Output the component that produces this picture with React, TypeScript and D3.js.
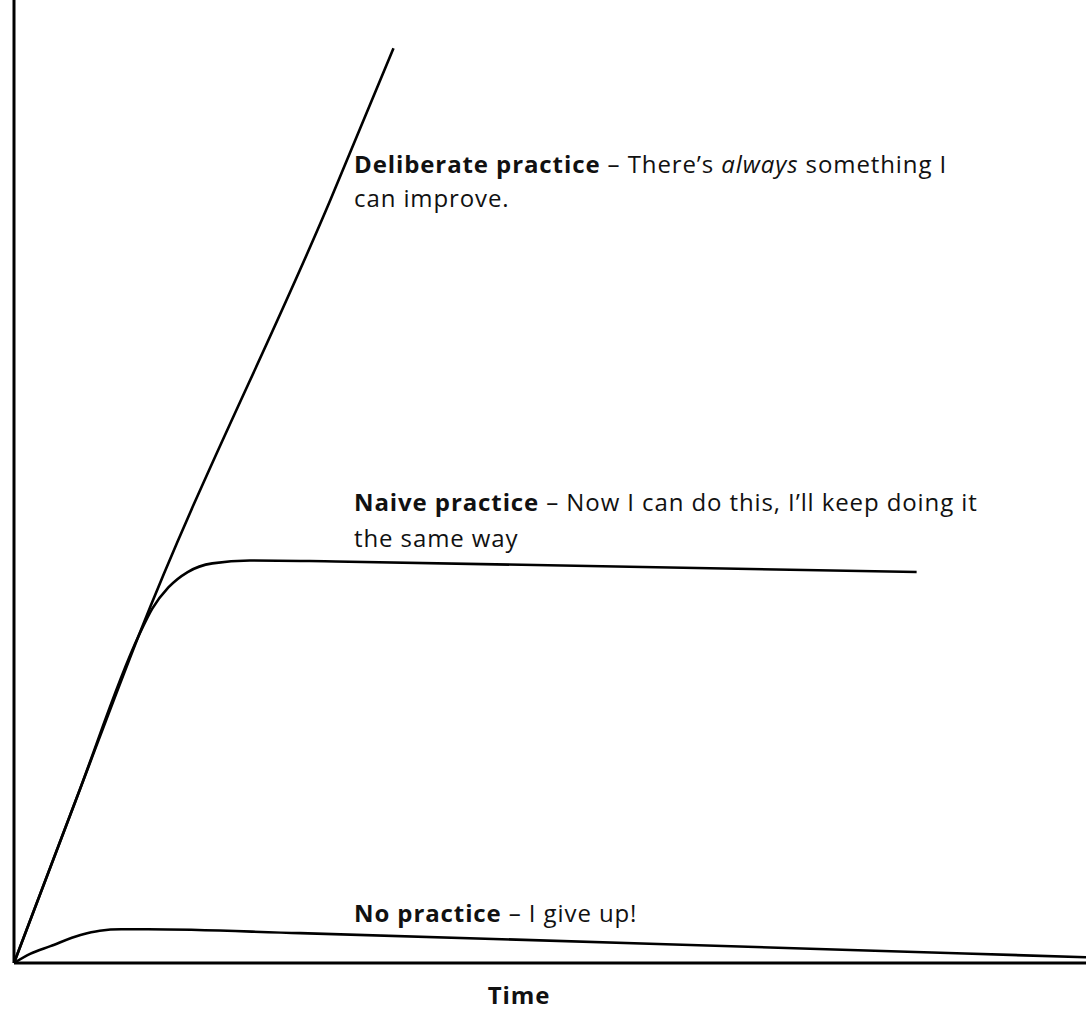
import React from 'react';
import * as d3 from 'd3';

interface Pt {
  t: number;
  v: number;
}

// values (time 0-100, skill 0-100)
const deliberate: Pt[] = [
  { t: 0, v: 0 },
  { t: 5.8, v: 17.0 },
  { t: 11.6, v: 33.9 },
  { t: 29.5, v: 79.2 },
  { t: 35.4, v: 95.0 },
];

const naive: Pt[] = [
  { t: 0, v: 0 },
  { t: 5.8, v: 17.0 },
  { t: 11.6, v: 33.9 },
  { t: 12.9, v: 36.8 },
  { t: 14.4, v: 39.0 },
  { t: 16.2, v: 40.6 },
  { t: 18.5, v: 41.5 },
  { t: 22.0, v: 41.8 },
  { t: 30.0, v: 41.7 },
  { t: 84.2, v: 40.6 },
];

const noPractice: Pt[] = [
  { t: 0, v: 0 },
  { t: 1.5, v: 0.95 },
  { t: 3.4, v: 1.75 },
  { t: 6.2, v: 2.9 },
  { t: 8.0, v: 3.35 },
  { t: 10.0, v: 3.5 },
  { t: 12.5, v: 3.5 },
  { t: 26.7, v: 3.1 },
  { t: 78.0, v: 1.35 },
  { t: 100, v: 0.6 },
];

const xLabel = 'Time';

const W = 1086;
const H = 1014;
const FONT = '"Open Sans", Lato, sans-serif';

const App: React.FC = () => {
  const x = d3.scaleLinear().domain([0, 100]).range([14, W]);
  const y = d3.scaleLinear().domain([0, 100]).range([963, 0]);

  const line = d3.line<Pt>()
    .x(d => x(d.t))
    .y(d => y(d.v))
    .curve(d3.curveMonotoneX);

  const [x0, x1] = x.range();
  const [y0, y1] = y.range();

  return (
    <svg
      width={W}
      height={H}
      style={{ position: 'absolute', left: 0, top: 0, background: '#fff' }}
      fontFamily={FONT}
    >
      {/* axes */}
      <line x1={x0} y1={y0} x2={x0} y2={y1} stroke="#000" strokeWidth={3} />
      <line x1={x0} y1={y0} x2={x1} y2={y0} stroke="#000" strokeWidth={3} />

      {[deliberate, naive, noPractice].map((s, i) => (
        <path key={i} d={line(s) || ''} fill="none" stroke="#000" strokeWidth={2.6} />
      ))}

      {/* annotations */}
      <g fontSize={24} letterSpacing={0.9} fill="#111">
        <text x={354} y={173}>
          <tspan fontWeight="bold">Deliberate practice</tspan>
          <tspan> – There’s </tspan>
          <tspan fontStyle="italic">always</tspan>
          <tspan> something I</tspan>
        </text>
        <text x={354} y={207}>can improve.</text>

        <text x={354} y={511}>
          <tspan fontWeight="bold">Naive practice</tspan>
          <tspan> – Now I can do this, I’ll keep doing it</tspan>
        </text>
        <text x={354} y={547}>the same way</text>

        <text x={354} y={922}>
          <tspan fontWeight="bold">No practice</tspan>
          <tspan> – I give up!</tspan>
        </text>

        <text x={519} y={1004} textAnchor="middle" fontWeight="bold">{xLabel}</text>
      </g>
    </svg>
  );
};

export default App;
